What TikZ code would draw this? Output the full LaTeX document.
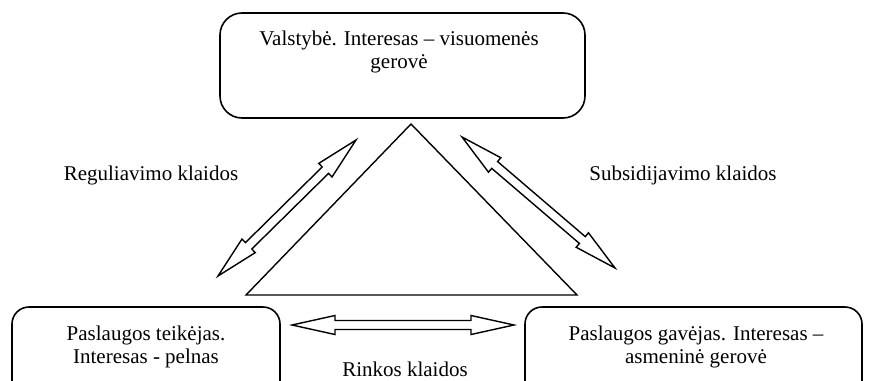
\documentclass[tikz,border=0pt]{standalone}
\usepackage{fontspec}
\setmainfont{Liberation Serif}
\usetikzlibrary{calc}

% hollow double-headed arrow between two named points
\newcommand\hollowarrow[2]{%
  \path ($(#1)!43pt!(#2)$) coordinate (ha1)
        ($(#2)!43pt!(#1)$) coordinate (ha2);
  \draw[arrowline] (#1)
    -- ($(ha1)!9.5pt!90:(#2)$)
    -- ($(ha1)!4.5pt!90:(#2)$)
    -- ($(ha2)!4.5pt!-90:(#1)$)
    -- ($(ha2)!9.5pt!-90:(#1)$)
    -- (#2)
    -- ($(ha2)!9.5pt!90:(#1)$)
    -- ($(ha2)!4.5pt!90:(#1)$)
    -- ($(ha1)!4.5pt!-90:(#2)$)
    -- ($(ha1)!9.5pt!-90:(#2)$)
    -- cycle;}

\begin{document}
\begin{tikzpicture}[x=1pt,y=-1pt,
  every node/.style={font=\fontsize{21}{23.5}\selectfont, inner sep=0pt},
  roundbox/.style={draw, line width=1.6pt, rounded corners=#1},
  boxtext/.style={align=center},
  arrowline/.style={line width=1.4pt, fill=white},
  triline/.style={line width=1.4pt}]
\useasboundingbox (0,0) rectangle (872,380);
\clip (0,0) rectangle (872,380);

% the three parties
\draw[roundbox=22pt] (220,13) rectangle (585,118);
\node[boxtext] (state) at (399,52) {Valstybė. Interesas – visuomenės\\gerovė};
\draw[roundbox=17pt] (12,307) rectangle (280,400);
\node[boxtext] (provider) at (146,347) {Paslaugos teikėjas.\\Interesas - pelnas};
\draw[roundbox=17pt] (525,307) rectangle (862,400);
\node[boxtext] (receiver) at (696,347) {Paslaugos gavėjas. Interesas –\\asmeninė gerovė};

% central triangle
\coordinate (apex) at (411,124);
\coordinate (baseL) at (246,295);
\coordinate (baseR) at (577,295);
\draw[triline] (apex) -- (baseL) -- (baseR) -- cycle;

% failure arrows between the parties
\coordinate (regTop) at (356,140);
\coordinate (regBot) at (218,276);
\coordinate (subTop) at (462,137);
\coordinate (subBot) at (615,268);
\coordinate (mktL) at (292,325);
\coordinate (mktR) at (514,325);
\hollowarrow{regTop}{regBot}
\hollowarrow{subTop}{subBot}
\hollowarrow{mktL}{mktR}

% arrow labels
\node (reg) at (151,175) {Reguliavimo klaidos};
\node (sub) at (683,175) {Subsidijavimo klaidos};
\node (mkt) at (405,369) {Rinkos klaidos};
\end{tikzpicture}
\end{document}
